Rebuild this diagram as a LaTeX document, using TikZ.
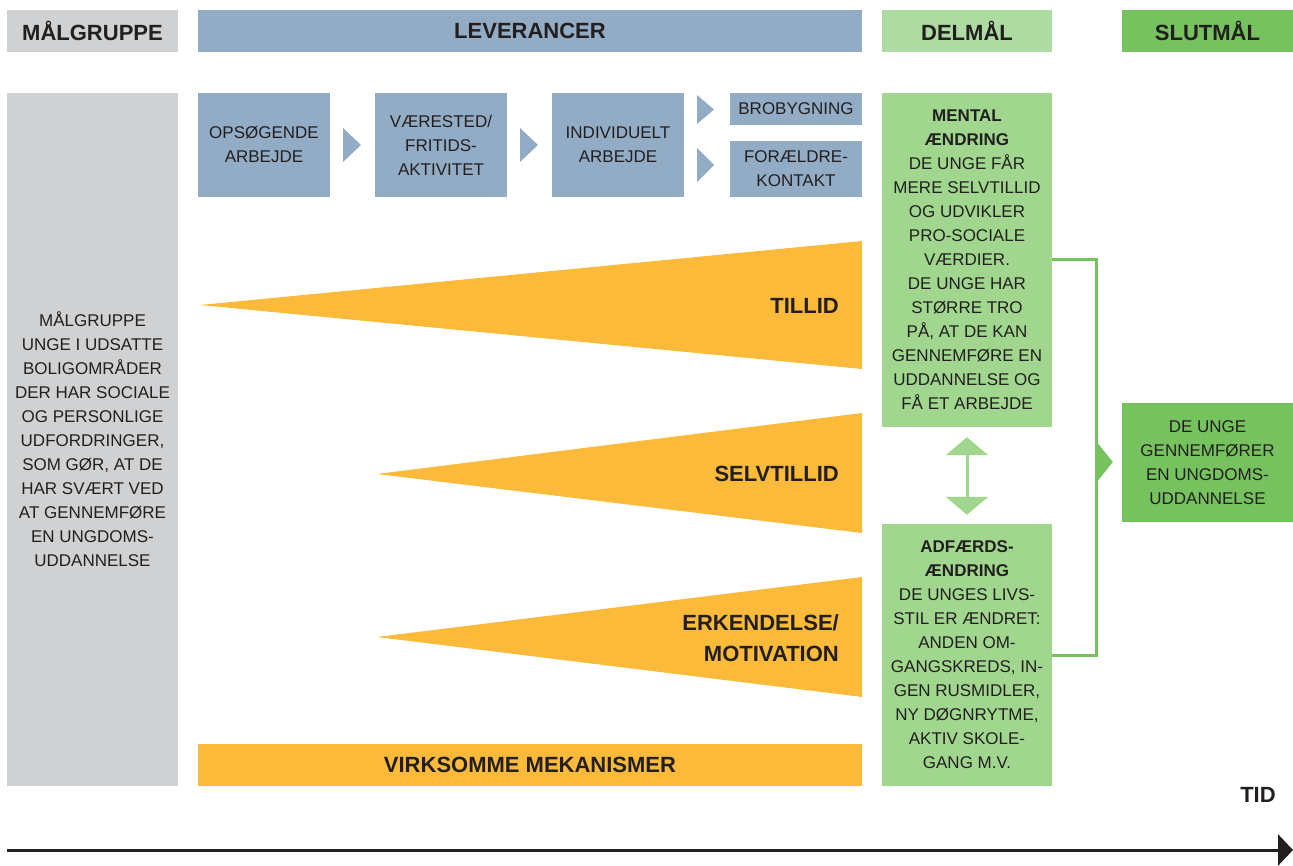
\documentclass[tikz,border=0pt]{standalone}
\usepackage{fontspec}
\setmainfont{Liberation Sans}
\usetikzlibrary{arrows.meta,calc}
\definecolor{grayc}{HTML}{D0D1D3}
\definecolor{bluec}{HTML}{91ACC4}
\definecolor{lgreenh}{HTML}{ADDBA1}
\definecolor{lgreen}{HTML}{A0D68E}
\definecolor{dgreen}{HTML}{75C25E}
\definecolor{orangec}{HTML}{FBBA3A}
\definecolor{txt}{HTML}{231F20}
\tikzset{
  box/.style={rectangle, inner sep=0pt, align=center, text=txt},
  body/.style={font=\fontsize{17}{24}\selectfont},
  head/.style={font=\fontsize{22}{26}\selectfont\bfseries},
  tri/.style={text=txt, inner sep=0pt, align=right, font=\fontsize{22}{31}\selectfont\bfseries},
  gline/.style={draw=dgreen, line width=3pt},
  lgline/.style={draw=lgreen, line width=3pt},
}
\begin{document}
\begin{tikzpicture}[x=1pt,y=-1pt]
\useasboundingbox (0,0) rectangle (1293,866);
% headers
\node[box, head, fill=grayc, minimum width=171, minimum height=42] (h1) at (92.5,31) {M\AA{}LGRUPPE};
\node[box, head, fill=bluec, minimum width=664, minimum height=42] (h2) at (530,31) {LEVERANCER};
\node[box, head, fill=lgreenh, minimum width=170, minimum height=42] (h3) at (967,31) {DELM\AA{}L};
\node[box, head, fill=dgreen, minimum width=171, minimum height=42] (h4) at (1207.5,31) {SLUTM\AA{}L};
% left column
\node[box, body, fill=grayc, minimum width=171, minimum height=693] (mg) at (92.5,439.5)
 {M\AA{}LGRUPPE\\UNGE I UDSATTE\\BOLIGOMR\AA{}DER\\DER HAR SOCIALE\\OG PERSONLIGE\\UDFORDRINGER,\\SOM G\O{}R, AT DE\\HAR SV\AE{}RT VED\\AT GENNEMF\O{}RE\\EN UNGDOMS-\\UDDANNELSE};
% blue boxes
\node[box, body, fill=bluec, minimum width=132, minimum height=104] (b1) at (264,145) {OPS\O{}GENDE\\ARBEJDE};
\node[box, body, fill=bluec, minimum width=132, minimum height=104] (b2) at (441,145) {V\AE{}RESTED/\\FRITIDS-\\AKTIVITET};
\node[box, body, fill=bluec, minimum width=132, minimum height=104] (b3) at (618,145) {INDIVIDUELT\\ARBEJDE};
\node[box, body, fill=bluec, minimum width=132, minimum height=32] (b4) at (796,109) {BROBYGNING};
\node[box, body, fill=bluec, minimum width=132, minimum height=56] (b5) at (796,169) {FOR\AE{}LDRE-\\KONTAKT};
% chevrons
\fill[bluec] (343,128) -- (361,145) -- (343,162) -- cycle;
\fill[bluec] (520,128) -- (538,145) -- (520,162) -- cycle;
\fill[bluec] (697,95) -- (714,109.5) -- (697,124) -- cycle;
\fill[bluec] (697,148) -- (714,165) -- (697,182) -- cycle;
% orange triangles
\fill[orangec] (200,305) -- (862,241) -- (862,369) -- cycle;
\fill[orangec] (377,474) -- (862,413) -- (862,533) -- cycle;
\fill[orangec] (377,637) -- (862,577) -- (862,697) -- cycle;
\node[tri, anchor=east] (t1) at (839,306) {TILLID};
\node[tri, anchor=east] (t2) at (839,474) {SELVTILLID};
\node[tri, anchor=east] (t3) at (839,638) {ERKENDELSE/\\MOTIVATION};
\node[box, head, fill=orangec, minimum width=664, minimum height=42] (vm) at (530,765) {VIRKSOMME MEKANISMER};
% green boxes
\node[box, body, fill=lgreen, minimum width=170, minimum height=334] (men) at (967,260)
 {\textbf{MENTAL}\\\textbf{\AE{}NDRING}\\DE UNGE F\AA{}R\\MERE SELVTILLID\\OG UDVIKLER\\PRO-SOCIALE\\V\AE{}RDIER.\\DE UNGE HAR\\ST\O{}RRE TRO\\P\AA{}, AT DE KAN\\GENNEMF\O{}RE EN\\UDDANNELSE OG\\F\AA{} ET ARBEJDE};
\node[box, body, fill=lgreen, minimum width=170, minimum height=262] (adf) at (967,655)
 {\textbf{ADF\AE{}RDS-}\\\textbf{\AE{}NDRING}\\DE UNGES LIVS-\\STIL ER \AE{}NDRET:\\ANDEN OM-\\GANGSKREDS, IN-\\GEN RUSMIDLER,\\NY D\O{}GNRYTME,\\AKTIV SKOLE-\\GANG M.V.};
\node[box, body, fill=dgreen, minimum width=171, minimum height=119] (slut) at (1207.5,462.5)
 {DE UNGE\\GENNEMF\O{}RER\\EN UNGDOMS-\\UDDANNELSE};
% connectors
\draw[lgline, {Triangle[length=18pt,width=42pt]}-{Triangle[length=18pt,width=42pt]}, shorten <=10pt, shorten >=9pt] (men.south) -- (adf.north);
\coordinate (jx) at (1096,462);
\draw[gline] (men.east) -| (jx) |- (adf.east);
\draw[gline, -{Triangle[length=17pt,width=42pt]}, shorten >=9pt] (jx) -- (slut.west |- jx);
% time axis
\node[text=txt, inner sep=0pt, font=\fontsize{22}{26}\selectfont\bfseries] (tid) at (1258,795) {TID};
\coordinate (ta) at (7,850);
\coordinate (tb) at (1293,850);
\draw[txt, line width=3pt, -{Triangle[length=15pt,width=31pt]}] (ta) -- (tb);
\end{tikzpicture}
\end{document}
